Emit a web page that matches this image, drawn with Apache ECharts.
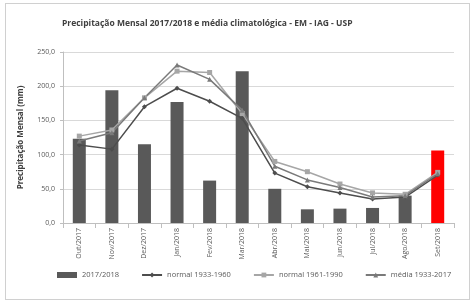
<!DOCTYPE html>
<html>
<head>
<meta charset="utf-8">
<script src="https://cdn.jsdelivr.net/npm/echarts@6/dist/echarts.min.js"></script>
<style>
  html, body { margin: 0; padding: 0; background: #fff; }
  #chart { width: 474px; height: 303px; }
  .frame { position: absolute; left: 5px; top: 3px; width: 463px; height: 295px; border: 1px solid #d0d0d0; pointer-events: none; }
</style>
</head>
<body>
<div id="chart"></div>
<div class="frame"></div>
<script>
const months = ["Out/2017", "Nov/2017", "Dez/2017", "Jan/2018", "Fev/2018", "Mar/2018",
  "Abr/2018", "Mai/2018", "Jun/2018", "Jul/2018", "Ago/2018", "Set/2018"];
const obs2017 = [123, 194, 115, 177, 62, 222, 50, 20, 21, 22, 40, 106];
const normal1933 = [114, 108, 170, 197, 178, 153, 73, 53, 44, 35, 38, 70];
const normal1961 = [127, 136, 183, 222, 220, 160, 90, 75, 57, 44, 42, 74];
const media1933 = [120, 132, 183, 231, 210, 165, 83, 63, 52, 38, 40, 72];
const yTicks = [0, 50, 100, 150, 200, 250];
const currentMonth = 11;

const chart = echarts.init(document.getElementById("chart"));
const font = "'Open Sans', 'Noto Sans', sans-serif";

chart.setOption({
  animation: false,
  backgroundColor: "#fff",
  textStyle: { fontFamily: font },
  title: {
    text: "Precipitação Mensal 2017/2018 e média climatológica - EM - IAG - USP",
    left: 57,
    top: 14,
    textStyle: { fontSize: 8.5, fontWeight: "bold", color: "#404040", fontFamily: font },
  },
  grid: { left: 63, right: 20, top: 52, bottom: 80 },
  legend: {
    bottom: 19,
    left: 52,
    width: 420,
    itemGap: 22,
    itemWidth: 20,
    itemHeight: 6,
    textStyle: { fontSize: 7.5, color: "#595959", fontFamily: font },
    data: [
      { name: "2017/2018", icon: "rect", itemStyle: { color: "#595959" } },
      "normal 1933-1960",
      "normal 1961-1990",
      "média 1933-2017",
    ],
  },
  xAxis: {
    type: "category",
    data: months,
    axisLine: { lineStyle: { color: "#bfbfbf" } },
    axisTick: { show: true, lineStyle: { color: "#bfbfbf" } },
    axisLabel: { rotate: 90, fontSize: 7, color: "#595959", margin: 5, interval: 0 },
  },
  yAxis: {
    type: "value",
    min: yTicks[0],
    max: yTicks[yTicks.length - 1],
    interval: 50,
    name: "Precipitação Mensal (mm)",
    nameLocation: "middle",
    nameGap: 38,
    nameTextStyle: { fontSize: 8, fontWeight: "bold", color: "#404040" },
    axisLine: { show: true, lineStyle: { color: "#bfbfbf" } },
    axisTick: { show: true, length: 3, lineStyle: { color: "#bfbfbf" } },
    axisLabel: {
      fontSize: 7,
      color: "#595959",
      formatter: (v) => v.toFixed(1).replace(".", ","),
    },
    splitLine: { lineStyle: { color: "#d9d9d9" } },
  },
  series: [
    {
      name: "2017/2018",
      type: "bar",
      data: obs2017,
      barWidth: 13,
      itemStyle: {
        color: (p) => (p.dataIndex === currentMonth ? "#ff0000" : "#595959"),
      },
    },
    {
      name: "normal 1933-1960",
      type: "line",
      data: normal1933,
      symbol: "diamond",
      symbolSize: 5,
      lineStyle: { color: "#4d4d4d", width: 1.5 },
      itemStyle: { color: "#4d4d4d" },
    },
    {
      name: "normal 1961-1990",
      type: "line",
      data: normal1961,
      symbol: "rect",
      symbolSize: 5,
      lineStyle: { color: "#a6a6a6", width: 1.5 },
      itemStyle: { color: "#a6a6a6" },
    },
    {
      name: "média 1933-2017",
      type: "line",
      data: media1933,
      symbol: "triangle",
      symbolSize: 5,
      lineStyle: { color: "#7a7a7a", width: 1.5 },
      itemStyle: { color: "#7a7a7a" },
    },
  ],
});
</script>
</body>
</html>
